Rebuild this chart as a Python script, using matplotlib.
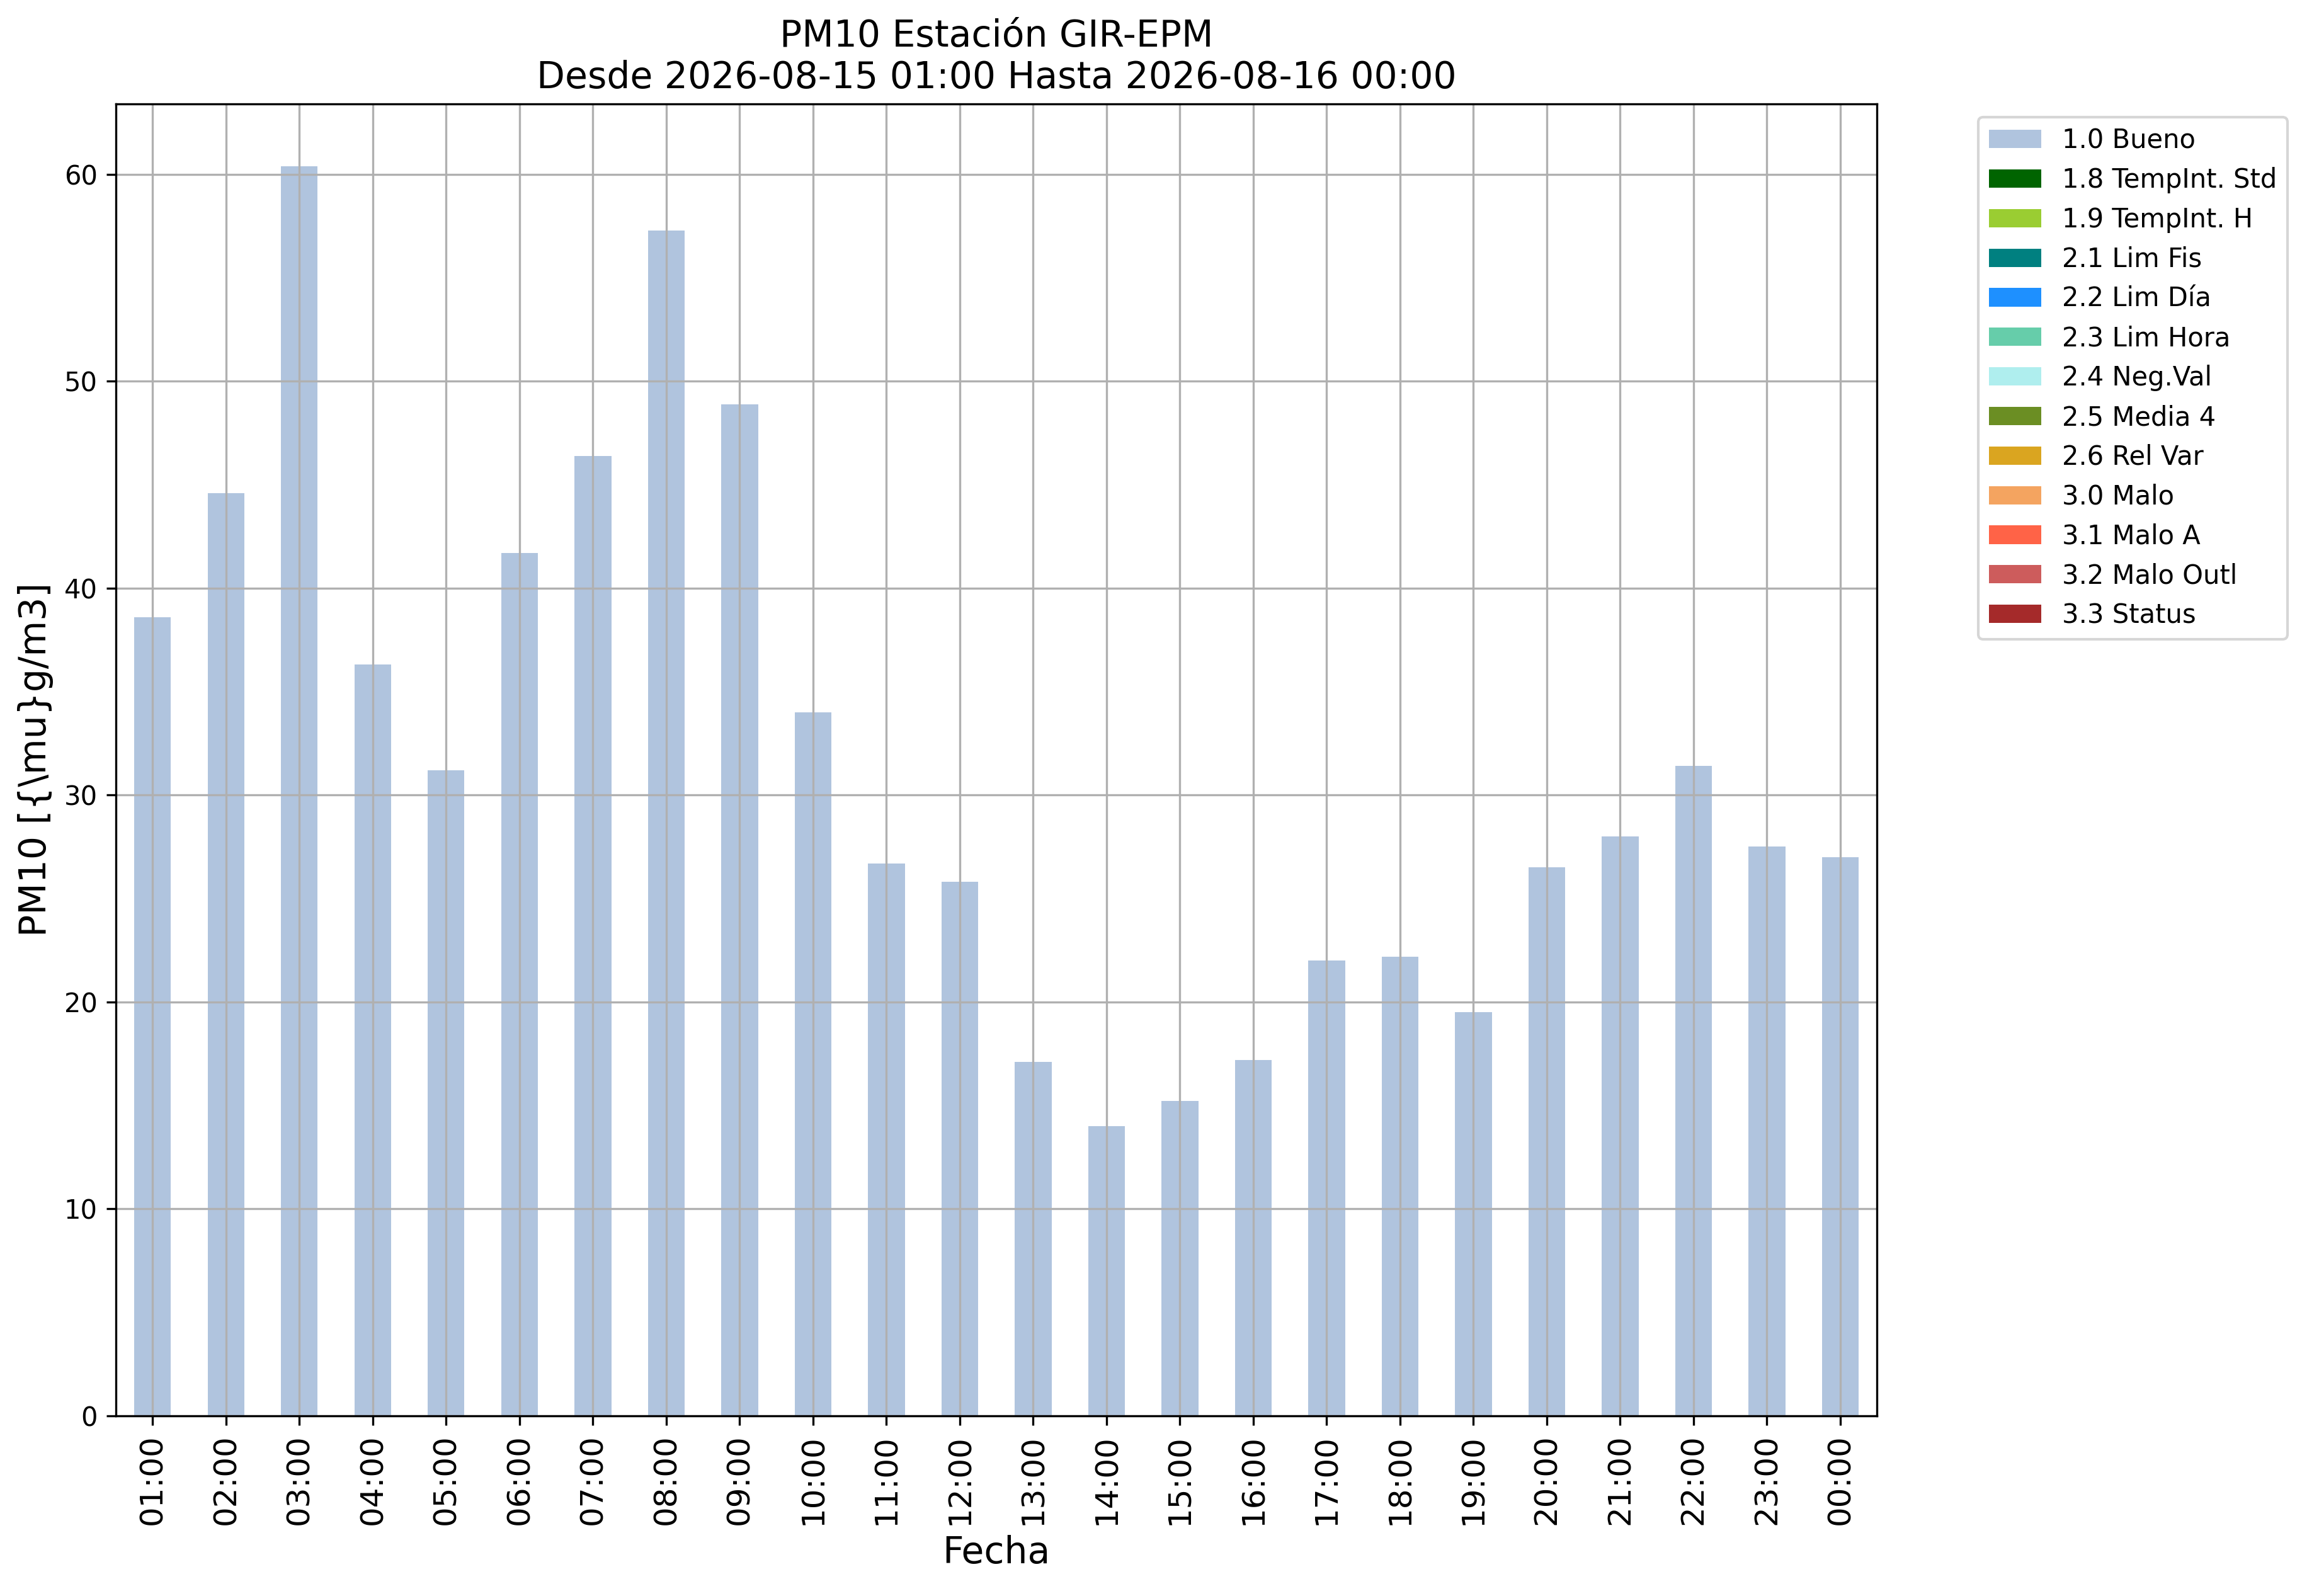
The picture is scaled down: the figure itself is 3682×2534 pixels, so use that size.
import numpy as np
import matplotlib
matplotlib.use("Agg")
from matplotlib import pyplot as plt

# horas (eje x)
horas = ["01:00", "02:00", "03:00", "04:00", "05:00", "06:00", "07:00", "08:00",
         "09:00", "10:00", "11:00", "12:00", "13:00", "14:00", "15:00", "16:00",
         "17:00", "18:00", "19:00", "20:00", "21:00", "22:00", "23:00", "00:00"]

# concentraciones PM10
pm10 = [38.6, 44.6, 60.4, 36.3, 31.2, 41.7, 46.4, 57.3, 48.9, 34.0, 26.7, 25.8,
        17.1, 14.0, 15.2, 17.2, 22.0, 22.2, 19.5, 26.5, 28.0, 31.4, 27.5, 27.0]

# bandera de calidad de cada dato
bandera = ["1.0 Bueno"] * 24

categorias = ["1.0 Bueno", "1.8 TempInt. Std", "1.9 TempInt. H", "2.1 Lim Fis",
              "2.2 Lim Día", "2.3 Lim Hora", "2.4 Neg.Val", "2.5 Media 4",
              "2.6 Rel Var", "3.0 Malo", "3.1 Malo A", "3.2 Malo Outl", "3.3 Status"]
colores = ["lightsteelblue", "darkgreen", "yellowgreen", "teal", "dodgerblue",
           "mediumaquamarine", "paleturquoise", "olivedrab", "goldenrod",
           "sandybrown", "tomato", "indianred", "brown"]

dpi = 300
fig = plt.figure(figsize=(3682 / dpi, 2534 / dpi), dpi=dpi)
ax = fig.add_axes([0.0500, 0.1130, 0.7594, 0.8220])

x = np.arange(len(horas))
valores = np.array(pm10)
base = np.zeros(len(horas))
for cat, col in zip(categorias, colores):
    h = np.where(np.array(bandera) == cat, valores, 0.0)
    ax.bar(x, h, width=0.5, bottom=base, color=col, label=cat)
    base += h

ax.set_xlim(-0.5, len(horas) - 0.5)
ax.set_ylim(0, valores.max() * 1.05)
ax.set_xticks(x)
ax.set_xticklabels(horas, rotation=90, fontsize=12)
ax.tick_params(axis="y", labelsize=10)
ax.grid(True)

ax.set_xlabel("Fecha", fontsize=14)
ax.set_ylabel("PM10 [{\\mu}g/m3]", fontsize=14)
ax.set_title("PM10 Estación GIR-EPM\nDesde 2026-08-15 01:00 Hasta 2026-08-16 00:00",
             fontsize=14)
ax.legend(bbox_to_anchor=(1.05, 1), loc="upper left", fontsize=10)

fig.savefig("out.png", dpi=dpi)
